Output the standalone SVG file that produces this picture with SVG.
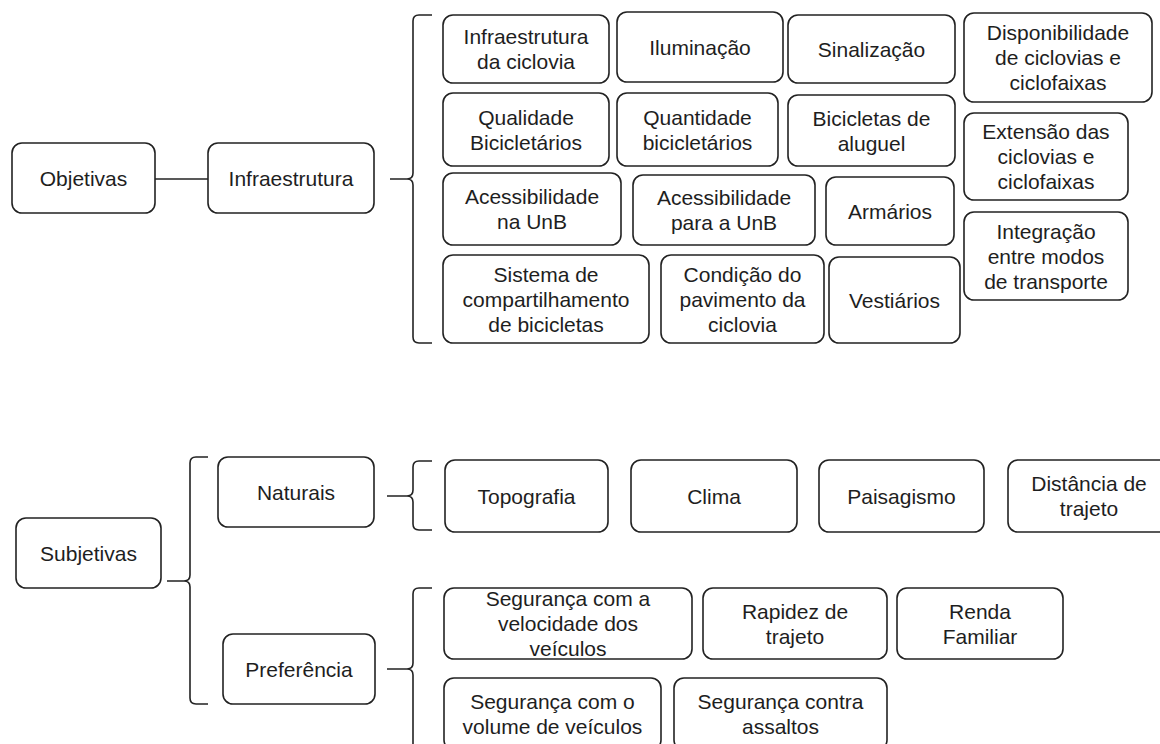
<svg xmlns="http://www.w3.org/2000/svg" width="1160" height="744" viewBox="0 0 1160 744">
<style>
.b{fill:#fff;stroke:#222;stroke-width:1.6}
.t{font-family:"Liberation Sans",Arial,sans-serif;font-size:21px;fill:#1e1e1e;text-anchor:middle}
.c{fill:none;stroke:#222;stroke-width:1.6}
</style>
<rect width="1160" height="744" fill="#fff"/>
<g id="connectors">
<path class="c" d="M155,179 H208"/>
<path class="c" d="M390,179 H407 M432,15 H419 Q413,15 413,21 V173 Q413,179 407,179 Q413,179 413,185 V337 Q413,343 419,343 H432"/>
<path class="c" d="M167,581 H184 M208,457 H196 Q190,457 190,463 V575 Q190,581 184,581 Q190,581 190,587 V698 Q190,704 196,704 H208"/>
<path class="c" d="M387,496 H407 M432,461 H419 Q413,461 413,467 V490 Q413,496 407,496 Q413,496 413,502 V524 Q413,530 419,530 H432"/>
<path class="c" d="M387,669 H407 M432,588 H419 Q413,588 413,594 V663 Q413,669 407,669 Q413,669 413,675 V744 Q413,750 419,750 H432"/>
</g>
<g id="objetivas"><rect class="b" x="12" y="143" width="143" height="70" rx="10"/><text class="t" x="83.5" y="185.5">Objetivas</text></g>
<g id="infraestrutura"><rect class="b" x="208" y="143" width="166" height="70" rx="10"/><text class="t" x="291" y="185.5">Infraestrutura</text></g>
<g id="infra-ciclovia"><rect class="b" x="443" y="15" width="166" height="68" rx="10"/><text class="t" x="526" y="44">Infraestrutura</text><text class="t" x="526" y="69">da ciclovia</text></g>
<g id="iluminacao"><rect class="b" x="617" y="12" width="166" height="70" rx="10"/><text class="t" x="700" y="54.5">Iluminação</text></g>
<g id="sinalizacao"><rect class="b" x="788" y="15" width="167" height="68" rx="10"/><text class="t" x="871.5" y="56.5">Sinalização</text></g>
<g id="disponibilidade"><rect class="b" x="964" y="13" width="188" height="89" rx="10"/><text class="t" x="1058" y="40">Disponibilidade</text><text class="t" x="1058" y="65">de ciclovias e</text><text class="t" x="1058" y="90">ciclofaixas</text></g>
<g id="qualidade"><rect class="b" x="443" y="93" width="166" height="73" rx="10"/><text class="t" x="526" y="124.5">Qualidade</text><text class="t" x="526" y="149.5">Bicicletários</text></g>
<g id="quantidade"><rect class="b" x="617" y="93" width="161" height="73" rx="10"/><text class="t" x="697.5" y="124.5">Quantidade</text><text class="t" x="697.5" y="149.5">bicicletários</text></g>
<g id="aluguel"><rect class="b" x="788" y="95" width="167" height="71" rx="10"/><text class="t" x="871.5" y="125.5">Bicicletas de</text><text class="t" x="871.5" y="150.5">aluguel</text></g>
<g id="extensao"><rect class="b" x="964" y="113" width="164" height="87" rx="10"/><text class="t" x="1046" y="139">Extensão das</text><text class="t" x="1046" y="164">ciclovias e</text><text class="t" x="1046" y="189">ciclofaixas</text></g>
<g id="acess-na"><rect class="b" x="443" y="173" width="178" height="72" rx="10"/><text class="t" x="532" y="204">Acessibilidade</text><text class="t" x="532" y="229">na UnB</text></g>
<g id="acess-para"><rect class="b" x="633" y="175" width="182" height="70" rx="10"/><text class="t" x="724" y="205">Acessibilidade</text><text class="t" x="724" y="230">para a UnB</text></g>
<g id="armarios"><rect class="b" x="826" y="177" width="128" height="68" rx="10"/><text class="t" x="890" y="218.5">Armários</text></g>
<g id="integracao"><rect class="b" x="964" y="212" width="164" height="88" rx="10"/><text class="t" x="1046" y="238.5">Integração</text><text class="t" x="1046" y="263.5">entre modos</text><text class="t" x="1046" y="288.5">de transporte</text></g>
<g id="sistema"><rect class="b" x="443" y="255" width="206" height="88" rx="10"/><text class="t" x="546" y="281.5">Sistema de</text><text class="t" x="546" y="306.5">compartilhamento</text><text class="t" x="546" y="331.5">de bicicletas</text></g>
<g id="condicao"><rect class="b" x="661" y="255" width="163" height="88" rx="10"/><text class="t" x="742.5" y="281.5">Condição do</text><text class="t" x="742.5" y="306.5">pavimento da</text><text class="t" x="742.5" y="331.5">ciclovia</text></g>
<g id="vestiarios"><rect class="b" x="829" y="257" width="131" height="86" rx="10"/><text class="t" x="894.5" y="307.5">Vestiários</text></g>
<g id="subjetivas"><rect class="b" x="16" y="518" width="145" height="70" rx="10"/><text class="t" x="88.5" y="560.5">Subjetivas</text></g>
<g id="naturais"><rect class="b" x="218" y="457" width="156" height="70" rx="10"/><text class="t" x="296" y="499.5">Naturais</text></g>
<g id="preferencia"><rect class="b" x="223" y="634" width="152" height="70" rx="10"/><text class="t" x="299" y="676.5">Preferência</text></g>
<g id="topografia"><rect class="b" x="445" y="460" width="163" height="72" rx="10"/><text class="t" x="526.5" y="503.5">Topografia</text></g>
<g id="clima"><rect class="b" x="631" y="460" width="166" height="72" rx="10"/><text class="t" x="714" y="503.5">Clima</text></g>
<g id="paisagismo"><rect class="b" x="819" y="460" width="165" height="72" rx="10"/><text class="t" x="901.5" y="503.5">Paisagismo</text></g>
<g id="distancia"><rect class="b" x="1008" y="460" width="162" height="72" rx="10"/><text class="t" x="1089" y="491">Distância de</text><text class="t" x="1089" y="516">trajeto</text></g>
<g id="seg-velocidade"><rect class="b" x="444" y="588" width="248" height="71" rx="10"/><text class="t" x="568" y="606">Segurança com a</text><text class="t" x="568" y="631">velocidade dos</text><text class="t" x="568" y="656">veículos</text></g>
<g id="rapidez"><rect class="b" x="703" y="588" width="184" height="71" rx="10"/><text class="t" x="795" y="618.5">Rapidez de</text><text class="t" x="795" y="643.5">trajeto</text></g>
<g id="renda"><rect class="b" x="897" y="588" width="166" height="71" rx="10"/><text class="t" x="980" y="618.5">Renda</text><text class="t" x="980" y="643.5">Familiar</text></g>
<g id="seg-volume"><rect class="b" x="444" y="678" width="217" height="72" rx="10"/><text class="t" x="552.5" y="709">Segurança com o</text><text class="t" x="552.5" y="734">volume de veículos</text></g>
<g id="seg-assaltos"><rect class="b" x="674" y="678" width="213" height="72" rx="10"/><text class="t" x="780.5" y="709">Segurança contra</text><text class="t" x="780.5" y="734">assaltos</text></g>
</svg>
